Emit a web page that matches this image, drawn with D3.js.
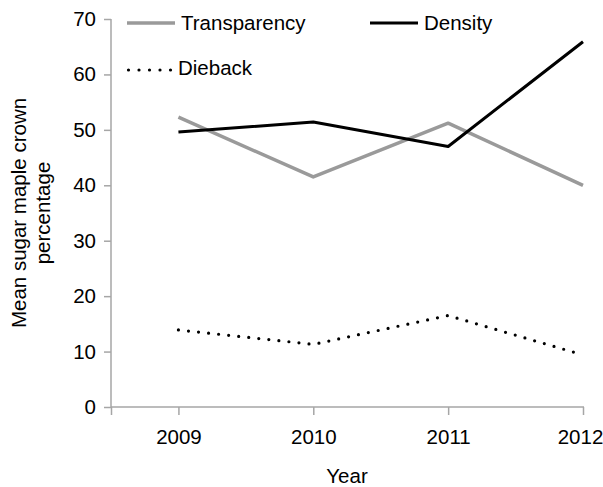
<!DOCTYPE html>
<html>
<head>
<meta charset="utf-8">
<script src="https://cdn.jsdelivr.net/npm/d3@7"></script>
<style>
  body { margin: 0; background: #fff; }
  text { font-family: "Liberation Sans", Arial, sans-serif; fill: #000; }
</style>
</head>
<body>
<div id="chart"></div>
<script>
var years = ["2009", "2010", "2011", "2012"];
var transparency = [52.3, 41.5, 51.2, 40.0];
var density = [49.6, 51.4, 47.0, 65.9];
var dieback = [13.9, 11.3, 16.5, 9.4];
var yTicks = [0, 10, 20, 30, 40, 50, 60, 70];

var series = [
    {name: "Transparency", values: transparency, color: "#9a9a9a", width: 3.5, dash: null},
    {name: "Density", values: density, color: "#000", width: 3, dash: null},
    {name: "Dieback", values: dieback, color: "#000", width: 3.2, dash: "0 10.1"}
];

var W = 603, H = 487;
var plotLeft = 111, plotRight = 583, plotTop = 19, plotBottom = 407;
var axisColor = "#a6a6a6";

var svg = d3.select("#chart").append("svg")
    .attr("width", W)
    .attr("height", H);

// category axis: first tick on the y axis, points half a step in
var x = d3.scaleLinear().domain([-0.5, years.length - 1]).range([plotLeft, plotRight]);
var y = d3.scaleLinear().domain([0, 70]).range([plotBottom, plotTop]);

// y axis
var yAxis = svg.append("g")
    .attr("transform", "translate(" + plotLeft + ",0)")
    .call(d3.axisLeft(y).tickValues(yTicks).tickSize(7).tickPadding(8));
yAxis.selectAll("path").attr("d", "M0," + y(70) + "V" + y(0)).attr("stroke", axisColor).attr("stroke-width", 1.5);
yAxis.selectAll("line").attr("stroke", axisColor).attr("stroke-width", 1.5);
yAxis.selectAll("text").style("font-size", "20.5px").attr("fill", "#000");

// x axis
var xAxis = svg.append("g")
    .attr("transform", "translate(0," + plotBottom + ")")
    .call(d3.axisBottom(x).tickValues([-0.5, 0, 1, 2, 3]).tickSize(8).tickPadding(14)
        .tickFormat(function(d) { return d < 0 ? "" : years[d]; }));
xAxis.selectAll("path").attr("d", "M" + plotLeft + ",0H" + (plotRight + 1)).attr("stroke", axisColor).attr("stroke-width", 1.5);
xAxis.selectAll("line").attr("stroke", axisColor).attr("stroke-width", 1.5);
xAxis.selectAll("text").style("font-size", "20.5px").attr("fill", "#000")
    .attr("dx", function(d) { return d === years.length - 1 ? -3 : 0; });

// axis titles
svg.append("text")
    .attr("x", (plotLeft + plotRight) / 2)
    .attr("y", 476)
    .attr("dy", "0.35em")
    .style("text-anchor", "middle")
    .style("font-size", "20.5px")
    .text("Year");

var yTitle = svg.append("text")
    .attr("transform", "translate(19,213) rotate(-90)")
    .style("text-anchor", "middle")
    .style("font-size", "20.5px");
yTitle.append("tspan").attr("x", 0).attr("dy", "0.35em").text("Mean sugar maple crown");
yTitle.append("tspan").attr("x", 0).attr("dy", "1.17em").text("percentage");

// lines
var line = d3.line()
    .x(function(d, i) { return x(i); })
    .y(function(d) { return y(d); });

series.forEach(function(s) {
    svg.append("path")
        .datum(s.values)
        .attr("fill", "none")
        .attr("stroke", s.color)
        .attr("stroke-width", s.width)
        .attr("stroke-linecap", s.dash ? "round" : "butt")
        .attr("stroke-linejoin", "round")
        .attr("stroke-dasharray", s.dash)
        .attr("d", line);
});

// legend
var legendPos = [
    {x: 127, y: 23},
    {x: 370, y: 23},
    {x: 127, y: 68}
];

var legend = svg.selectAll(".legend")
    .data(series)
    .enter().append("g")
    .attr("class", "legend")
    .attr("transform", function(d, i) { return "translate(" + legendPos[i].x + "," + legendPos[i].y + ")"; });

legend.append("line")
    .attr("x1", function(d) { return d.dash ? 1.5 : 0; })
    .attr("x2", function(d) { return d.dash ? 44 : 48; })
    .attr("y1", function(d) { return d.dash ? 2 : 0; })
    .attr("y2", function(d) { return d.dash ? 2 : 0; })
    .attr("stroke", function(d) { return d.color; })
    .attr("stroke-width", function(d) { return d.width; })
    .attr("stroke-linecap", function(d) { return d.dash ? "round" : "butt"; })
    .attr("stroke-dasharray", function(d) { return d.dash ? "0 10.5" : null; });

legend.append("text")
    .attr("x", function(d) { return d.dash ? 51 : 54; })
    .attr("y", 0)
    .attr("dy", "0.35em")
    .style("font-size", "20.5px")
    .text(function(d) { return d.name; });
</script>
</body>
</html>
